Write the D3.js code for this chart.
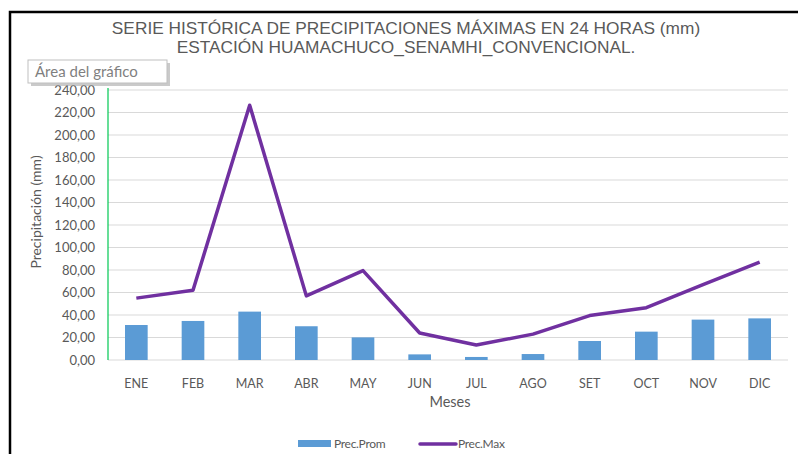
<!DOCTYPE html>
<html><head><meta charset="utf-8">
<script src="https://cdn.jsdelivr.net/npm/d3@7"></script>
<style>body{margin:0;background:#fff;}svg{display:block;}</style>
</head><body><svg id="c" width="798" height="454"></svg>
<script>
const months = ["ENE","FEB","MAR","ABR","MAY","JUN","JUL","AGO","SET","OCT","NOV","DIC"];
const precProm = [31.1,34.7,43.0,30.0,20.1,5.0,2.7,5.3,16.9,25.2,35.9,37.0];
const precMax = [55.0,62.0,226.5,57.0,79.5,24.0,13.3,23.0,39.5,46.5,67.0,87.0];
const yTicks = [0,20,40,60,80,100,120,140,160,180,200,220,240];
const titleLines = ["SERIE HISTÓRICA DE PRECIPITACIONES MÁXIMAS EN 24 HORAS (mm)","ESTACIÓN HUAMACHUCO_SENAMHI_CONVENCIONAL."];

(function(){
const svg = d3.select("#c");
const pL=108, pR=788, pT=90, pB=360;
const x = d3.scaleBand().domain(months).range([pL,pR]).paddingInner(0.6).paddingOuter(0.3);
const xc = d3.scaleBand().domain(months).range([pL,pR]);
const y = d3.scaleLinear().domain([0,240]).range([pB,pT]);
const lblFont = "Lato, 'Open Sans', sans-serif";
const gray = "#595959";

// frame
svg.append("path").attr("d","M10,460 L10,12 L800,12").attr("fill","none").attr("stroke","#000").attr("stroke-width",2.5);

// title
svg.selectAll("text.title").data(titleLines).join("text").attr("class","title")
  .attr("x",406).attr("y",(d,i)=>34+i*19).attr("text-anchor","middle")
  .attr("font-family","'Liberation Sans', Arial, sans-serif").attr("font-size",17.3).attr("fill",gray).text(d=>d);

// gridlines
svg.append("g").selectAll("line").data(yTicks).join("line")
  .attr("x1",pL).attr("x2",pR).attr("y1",d=>y(d)).attr("y2",d=>y(d))
  .attr("stroke","#d9d9d9").attr("stroke-width",1);

// y axis labels
const fmt = d=>d3.format(".2f")(d).replace(".",",");
const yAxis = d3.axisLeft(y).tickValues(yTicks).tickFormat(fmt).tickSize(0).tickPadding(13);
const ga = svg.append("g").attr("transform",`translate(${pL},0)`).call(yAxis);
ga.select(".domain").remove();
ga.selectAll("text").attr("font-family",lblFont).attr("font-size",13).attr("fill",gray);

// green axis line
svg.append("line").attr("x1",pL).attr("x2",pL).attr("y1",pT-2).attr("y2",pB).attr("stroke","#00c853").attr("stroke-width",1.2);

// bars
svg.append("g").selectAll("rect").data(precProm).join("rect")
  .attr("x",(d,i)=>x(months[i])).attr("width",x.bandwidth())
  .attr("y",d=>y(d)).attr("height",d=>y(0)-y(d)).attr("fill","#5b9bd5");

// line
const line = d3.line().x((d,i)=>xc(months[i])+xc.bandwidth()/2).y(d=>y(d));
svg.append("path").datum(precMax).attr("d",line).attr("fill","none")
  .attr("stroke","#7030a0").attr("stroke-width",3.5).attr("stroke-linejoin","round");

// x axis labels
const xAxis = d3.axisBottom(xc).tickSize(0).tickPadding(19);
const gx = svg.append("g").attr("transform",`translate(0,${pB})`).call(xAxis);
gx.select(".domain").remove();
gx.selectAll("text").attr("font-family",lblFont).attr("font-size",12.5).attr("fill",gray);

// axis titles
svg.append("text").attr("x",450).attr("y",407).attr("text-anchor","middle")
  .attr("font-family",lblFont).attr("font-size",14.5).attr("fill",gray).text("Meses");
svg.append("text").attr("transform","translate(41,212) rotate(-90)").attr("text-anchor","middle")
  .attr("font-family",lblFont).attr("font-size",14).attr("fill",gray).text("Precipitación (mm)");

// legend
const lg = svg.append("g");
lg.append("rect").attr("x",298).attr("y",440).attr("width",33).attr("height",7).attr("fill","#5b9bd5");
lg.append("text").attr("x",334).attr("y",448).attr("font-family",lblFont).attr("font-size",12).attr("fill",gray).attr("letter-spacing",-0.3).text("Prec.Prom");
lg.append("line").attr("x1",420).attr("x2",456).attr("y1",444).attr("y2",444).attr("stroke","#7030a0").attr("stroke-width",3.5).attr("stroke-linecap","round");
lg.append("text").attr("x",458).attr("y",448).attr("font-family",lblFont).attr("font-size",12).attr("fill",gray).attr("letter-spacing",-0.3).text("Prec.Max");

// tooltip "Área del gráfico"
const tt = svg.append("g");
tt.append("rect").attr("x",31).attr("y",63).attr("width",139).attr("height",23).attr("fill","#a6a6a6").attr("opacity",0.6);
tt.append("rect").attr("x",28).attr("y",60).attr("width",139).attr("height",23).attr("fill","#fff").attr("stroke","#bfbfbf");
tt.append("text").attr("x",35).attr("y",77).attr("font-family",lblFont).attr("font-size",15).attr("fill","#7f7f7f").text("Área del gráfico");
})();
</script></body></html>
